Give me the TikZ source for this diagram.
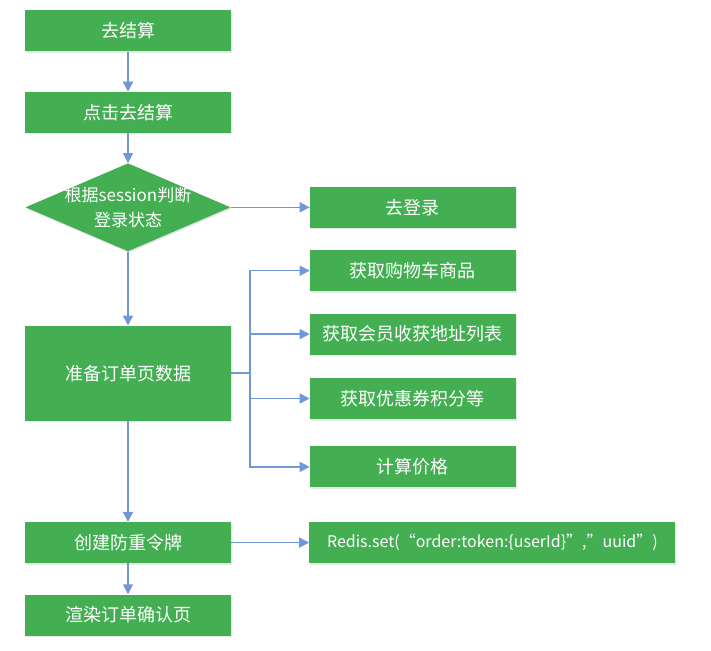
\documentclass[tikz,border=0pt]{standalone}
\usepackage{fontspec}
\setmainfont{Noto Sans CJK SC}
\usetikzlibrary{arrows.meta,positioning,shapes.geometric,shadows}
\definecolor{flowgreen}{RGB}{68,175,82}
\definecolor{flowblue}{RGB}{114,151,214}
\tikzset{
  box/.style ={fill=flowgreen,text=white,align=center,font=\fontsize{18pt}{22pt}\selectfont,
               minimum width=206pt,minimum height=41pt,inner sep=3pt,
               drop shadow={shadow xshift=1pt,shadow yshift=-1.5pt,opacity=.2,fill=gray}},
  dec/.style ={diamond,fill=flowgreen,minimum width=205pt,minimum height=88pt,inner sep=0pt,
               drop shadow={shadow xshift=1pt,shadow yshift=-1.5pt,opacity=.2,fill=gray}},
  txt/.style ={text=white,align=center,font=\fontsize{17pt}{25pt}\selectfont},
  ar/.style  ={draw=flowblue,line width=1.5pt,-{Triangle[length=10pt,width=10pt]}},
}

\begin{document}
\begin{tikzpicture}[x=1pt,y=-1pt]
\useasboundingbox (0,0) rectangle (711,650);

\node[box] (GO) at (128,31) {去结算};
\node[box,below=40pt of GO] (CL) {点击去结算};
\node[dec,below=30pt of CL,label={[txt]center:根据session判断\\登录状态}] (SS) {};
\node[box,right=79pt of SS] (LG) {去登录};

\node[box,minimum height=95pt,below=74pt of SS] (PR) {准备订单页数据};
\coordinate[right=19pt of PR] (J);

\node[box,below=22pt of LG] (G1) {获取购物车商品};
\node[box,below=22pt of G1] (G2) {获取会员收获地址列表};
\node[box,below=23pt of G2] (G3) {获取优惠券积分等};
\node[box,below=27pt of G3] (G4) {计算价格};

\node[box,below=101pt of PR] (TK) {创建防重令牌};
\node[box,minimum width=366pt,right=78pt of TK,font=\fontsize{16pt}{20pt}\selectfont] (RS)
  {Redis.set(“order:token:\{userId\}”,”uuid”)};
\node[box,below=31pt of TK] (RD) {渲染订单确认页};

\draw[ar] (GO) -- (CL);
\draw[ar] (CL) -- (SS);
\draw[ar] (SS) -- (LG);
\draw[ar] (SS) -- (PR);
\draw[ar] (PR.east) -- (J) |- (G1.west);
\draw[ar] (J) |- (G2.west);
\draw[ar] (J) |- (G3.west);
\draw[ar] (J) |- (G4.west);
\draw[ar] (PR) -- (TK);
\draw[ar] (TK) -- (RS);
\draw[ar] (TK) -- (RD);
\end{tikzpicture}
\end{document}
